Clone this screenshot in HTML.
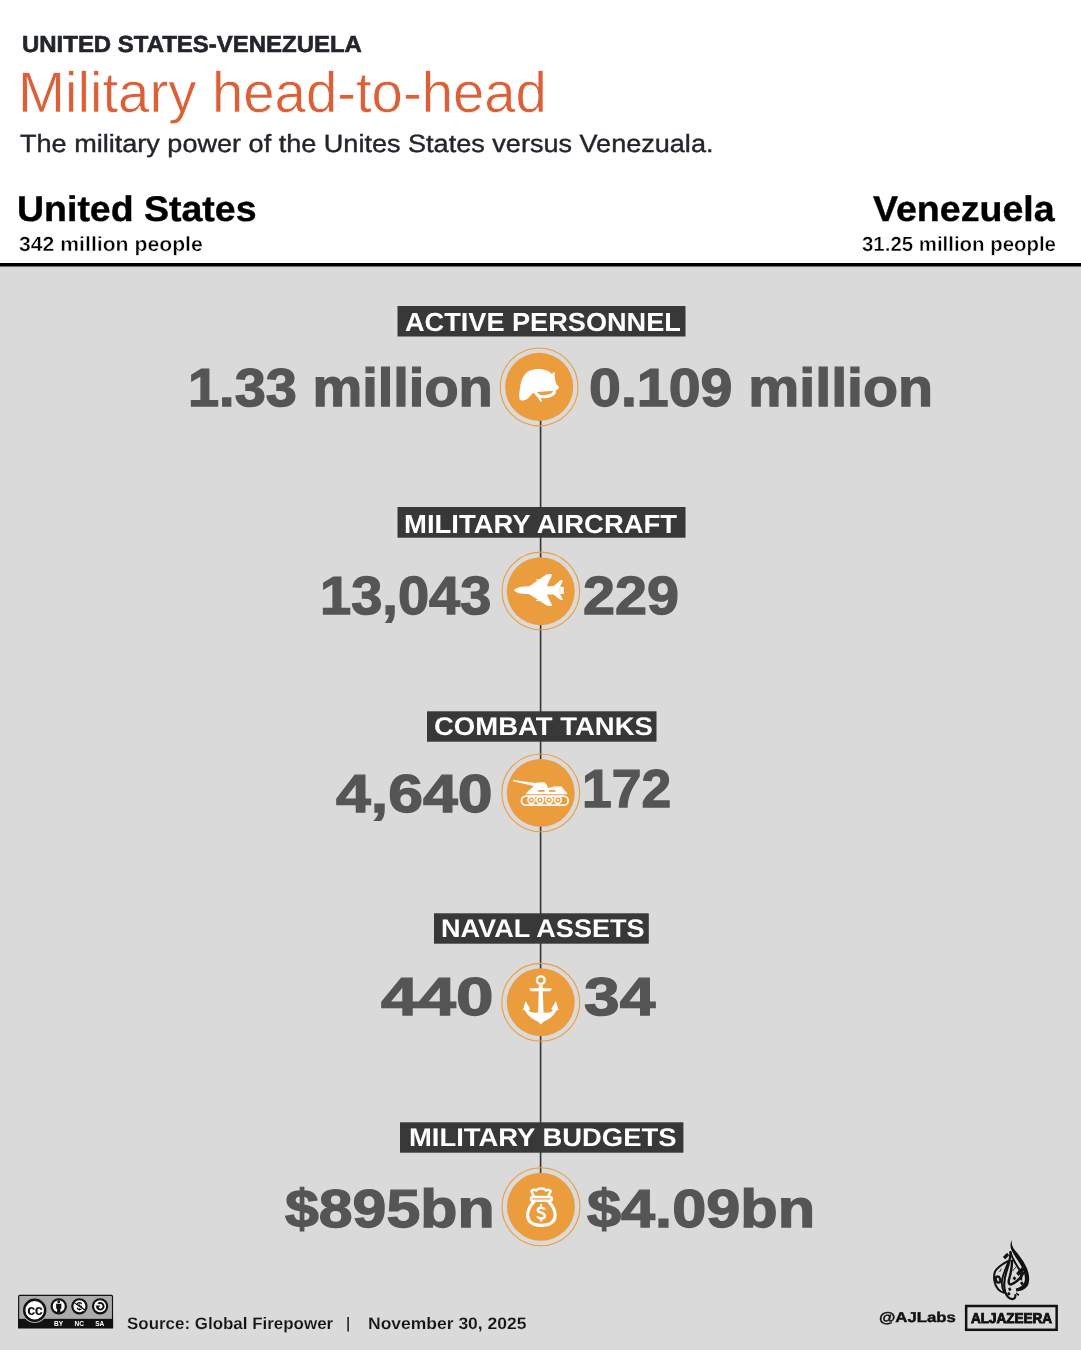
<!DOCTYPE html>
<html lang="en">
<head>
<meta charset="utf-8">
<title>Military head-to-head</title>
<style>
html,body{margin:0;padding:0;}
body{width:1081px;height:1350px;background:#fff;font-family:"Liberation Sans",sans-serif;overflow:hidden;}
#page{will-change:transform;position:relative;width:1081px;height:1350px;overflow:hidden;background:#fff;}
.t{position:absolute;white-space:nowrap;line-height:1;transform-origin:0 0;margin:0;padding:0;text-rendering:geometricPrecision;}
.ic{position:absolute;display:block;overflow:visible;}
</style>
</head>
<body>
<div id="page">
<svg id="bgsvg" class="ic" style="left:0;top:0;width:1081px;height:1350px" viewBox="0 0 1081 1350">
<rect x="0" y="265" width="1081" height="1085" fill="#dadada"/>
<rect x="0" y="263" width="1081" height="3.5" fill="#000"/>
<rect x="539.8" y="387" width="1.6" height="820" fill="#333"/>
<g fill="#383838">
<rect x="397.5" y="306" width="288" height="30.5"/>
<rect x="397.5" y="507" width="288" height="30.7"/>
<rect x="427" y="711.3" width="229.5" height="30.4"/>
<rect x="434" y="913.3" width="214.8" height="30.4"/>
<rect x="400" y="1122.3" width="283.4" height="30.4"/>
</g>
<rect x="347.3" y="1317" width="1.6" height="14.5" fill="#222"/>
</svg>
<!-- icon 1: helmet -->
<svg class="ic" style="left:495px;top:342px;width:90px;height:90px" viewBox="0 0 1081 1081">
<circle cx="530" cy="540" r="467" fill="none" stroke="#eb9d3e" stroke-width="13"/>
<circle cx="531" cy="539" r="409" fill="#eb9d3e"/>
<path fill="#fff" d="M295 685C285 640 295 590 302 545C310 470 340 395 395 355C450 318 560 315 630 345C655 357 672 372 685 388L702 360L716 366C716 420 722 470 738 505L770 545C762 565 745 578 722 585C660 592 580 592 505 602C470 608 445 618 430 640C410 672 380 695 340 702C315 705 298 700 295 685Z"/>
<path fill="none" stroke="#fff" stroke-width="38" stroke-linecap="round" d="M716 598C700 642 625 664 548 654C520 648 500 630 490 612"/>
<path fill="none" stroke="#fff" stroke-width="22" stroke-linecap="round" d="M522 655L553 708"/>
</svg>
<!-- icon 2: jet -->
<svg class="ic" style="left:496px;top:546px;width:90px;height:90px" viewBox="0 0 1081 1081">
<circle cx="538.5" cy="540" r="466" fill="none" stroke="#eb9d3e" stroke-width="13"/>
<circle cx="537.5" cy="542.5" r="408" fill="#eb9d3e"/>
<path fill="#fff" d="M218 530C225 510 270 490 330 485L400 483L600 345C625 332 660 335 675 345L610 483L690 483L775 410L805 410L770 488L815 492L815 575L770 578L805 648L775 648L690 583L610 583L675 715C660 725 625 722 600 710L400 580L330 575C270 570 225 550 218 530Z"/>
<path fill="#fff" d="M480 398L545 402L540 416L485 411ZM480 662L545 658L540 644L485 649Z"/>
<path fill="none" stroke="#eb9d3e" stroke-width="5" d="M768 494L768 574"/>
</svg>
<!-- icon 3: tank -->
<svg class="ic" style="left:496px;top:748px;width:90px;height:90px" viewBox="0 0 1081 1081">
<circle cx="537.5" cy="538.5" r="467" fill="none" stroke="#eb9d3e" stroke-width="13"/>
<circle cx="537.5" cy="539" r="408" fill="#eb9d3e"/>
<rect x="306" y="578" width="561" height="109" rx="55" fill="none" stroke="#fff" stroke-width="20"/>
<g fill="none" stroke="#fff" stroke-width="19"><circle cx="425" cy="625" r="41"/><circle cx="530" cy="625" r="41"/><circle cx="637" cy="625" r="41"/><circle cx="742" cy="625" r="41"/></g>
<g fill="#fff"><circle cx="425" cy="625" r="15"/><circle cx="530" cy="625" r="15"/><circle cx="637" cy="625" r="15"/><circle cx="742" cy="625" r="15"/></g>
<path fill="#fff" d="M350 557L395 510L440 470L472 418L585 410L612 445L625 480L668 470L700 460L790 462L802 482L855 545L855 557Z"/>
<path fill="#fff" d="M205 383L470 420L450 456L205 399Z"/>
<rect x="505" y="505" width="80" height="20" rx="8" fill="#eb9d3e"/><rect x="635" y="505" width="80" height="20" rx="8" fill="#eb9d3e"/>
</svg>
<!-- icon 4: anchor -->
<svg class="ic" style="left:496px;top:957px;width:90px;height:90px" viewBox="0 0 1081 1081">
<circle cx="537.5" cy="544" r="467" fill="none" stroke="#eb9d3e" stroke-width="13"/>
<circle cx="537.5" cy="542.5" r="408" fill="#eb9d3e"/>
<circle cx="538" cy="278" r="46" fill="none" stroke="#fff" stroke-width="28"/>
<path fill="#fff" d="M516 330L560 330L572 700L504 700Z"/>
<path fill="#fff" d="M400 375L672 375L652 412L420 412Z"/>
<path fill="#fff" d="M355 528L322 642L348 636C372 702 440 748 502 776L538 812L574 776C636 748 704 702 728 636L752 642L720 528L664 626L684 640C666 666 626 672 572 668L504 668C450 672 410 666 392 640L412 626Z"/>
</svg>
<!-- icon 5: money bag -->
<svg class="ic" style="left:496px;top:1162px;width:90px;height:90px" viewBox="0 0 1081 1081">
<circle cx="540" cy="537.5" r="468" fill="none" stroke="#eb9d3e" stroke-width="13"/>
<circle cx="540" cy="537.5" r="408" fill="#eb9d3e"/>
<path fill="none" stroke="#fff" stroke-width="38" stroke-linecap="round" d="M455 478C400 530 378 590 380 650C385 720 450 762 545 762C640 762 705 720 710 650C712 590 690 530 635 478"/>
<rect x="420" y="420" width="250" height="46" rx="23" fill="none" stroke="#fff" stroke-width="30"/>
<path fill="none" stroke="#fff" stroke-width="30" stroke-linejoin="round" stroke-linecap="round" d="M452 408L425 350C440 333 465 330 482 342C505 312 580 312 602 342C618 330 642 333 657 350L630 408"/>
<path fill="none" stroke="#fff" stroke-width="30" d="M584 574C576 542 502 538 502 580C502 614 586 602 586 648C584 690 506 684 498 652"/><path fill="none" stroke="#fff" stroke-width="24" d="M542 505L542 545M542 675L542 716"/>
</svg>
<!-- CC badge -->
<svg class="ic" style="left:14px;top:1290px;width:104px;height:42.04px" viewBox="0 0 1081 437">
<path fill="#aaabaa" stroke="#111" stroke-width="12" d="M48 395L48 68Q48 56 60 56L1012 56Q1024 56 1024 68L1024 395Z"/>
<rect x="42" y="300" width="988" height="95" fill="#111"/>
<circle cx="215" cy="210" r="132" fill="#aaabaa"/>
<circle cx="215" cy="210" r="109" fill="#fff" stroke="#111" stroke-width="25"/>
<text x="215" y="256" font-family="Liberation Sans, sans-serif" font-weight="700" font-size="150" fill="#111" text-anchor="middle" letter-spacing="-7">cc</text>
<g fill="#fff" stroke="#111" stroke-width="23"><circle cx="465" cy="170" r="74"/><circle cx="680" cy="170" r="74"/><circle cx="895" cy="170" r="74"/></g>
<circle cx="465" cy="122" r="15" fill="#111"/><path fill="#111" d="M438 142L492 142L492 195L482 195L482 232L448 232L448 195L438 195Z"/>
<text x="680" y="210" font-family="Liberation Sans, sans-serif" font-weight="700" font-size="112" fill="#111" text-anchor="middle">$</text>
<path stroke="#111" stroke-width="14" d="M618 128L742 212"/>
<path stroke="#fff" stroke-width="8" d="M622 142L732 218"/>
<circle cx="897" cy="170" r="34" fill="none" stroke="#111" stroke-width="20"/>
<path fill="#fff" d="M845 128L892 150L892 172L845 172Z"/>
<path fill="#111" d="M846 160L898 160L872 192Z"/>
<g font-family="Liberation Sans, sans-serif" font-weight="700" font-size="68" fill="#fff" text-anchor="middle"><text x="463" y="375">BY</text><text x="678" y="375">NC</text><text x="891" y="375">SA</text></g>
</svg>
<!-- AJ box -->
<svg class="ic" style="left:960px;top:1300px;width:102px;height:36px" viewBox="0 0 102 36"><rect x="6.15" y="6.0" width="90.5" height="23.8" fill="none" stroke="#111" stroke-width="2.5"/></svg>
<!-- AJ flame logo -->
<svg class="ic" style="left:980px;top:1232px;width:65px;height:72px" viewBox="0 0 1081 1197">
<path fill="#111" d="M540 128C522 160 524 205 552 262C595 330 690 420 760 560C810 660 835 770 805 870C780 940 700 985 605 990L595 940C680 925 735 880 745 800C755 720 720 620 655 515C610 440 548 360 520 290C500 235 500 170 540 128Z"/>
<path fill="none" stroke="#111" stroke-width="34" stroke-linecap="round" d="M508 335C530 440 598 530 648 615C678 665 694 725 684 790"/>
<path fill="none" stroke="#111" stroke-width="34" stroke-linecap="round" d="M490 470C400 520 290 570 250 660C215 750 240 880 300 950C330 985 370 1005 400 1010"/>
<path fill="none" stroke="#111" stroke-width="36" stroke-linecap="round" d="M505 335C510 450 470 560 440 660C400 780 390 900 420 1000C440 1060 490 1110 540 1115C570 1115 592 1090 588 1050"/>
<path fill="none" stroke="#111" stroke-width="30" stroke-linecap="round" d="M470 500C440 580 390 680 370 780C355 870 370 950 400 1000"/>
<path fill="none" stroke="#111" stroke-width="40" stroke-linecap="round" d="M530 480C540 600 500 720 480 800C470 850 490 880 520 870C600 840 680 760 720 680"/>
<ellipse cx="300" cy="790" rx="36" ry="52" fill="none" stroke="#111" stroke-width="38" transform="rotate(-20 300 790)"/>
<path fill="#111" d="M380 415L450 345L485 385L420 455Z"/>
<path fill="#111" d="M600 685L700 580L730 640L640 730Z"/>
<path fill="#111" d="M540 765L575 735L605 775L570 805ZM665 850L700 820L730 860L695 890ZM465 945L500 920L525 960L490 985ZM450 1020L485 995L510 1035L475 1060Z"/>
<path fill="#111" d="M598 1000L655 1040L640 1065L605 1040Z"/>
<path fill="none" stroke="#111" stroke-width="14" d="M540 650L600 580M325 665L355 610"/>
</svg>

<div class="t" id="kicker" style="left:21.58px;top:32.75px;font-size:23.20px;font-weight:700;color:#23252c;transform:scaleX(1.0332);-webkit-text-stroke:0.6px #23252c;">UNITED STATES-VENEZUELA</div>
<div class="t" id="title" style="left:18.18px;top:64.99px;font-size:57.02px;font-weight:400;color:#db5f37;transform:scaleX(0.9876);-webkit-text-stroke:0.6px #fff;">Military head-to-head</div>
<div class="t" id="sub" style="left:20.28px;top:131.87px;font-size:24.92px;font-weight:400;color:#23252c;transform:scaleX(1.0866);-webkit-text-stroke:0.4px #23252c;">The military power of the Unites States versus Venezuala.</div>
<div class="t" id="us" style="left:16.75px;top:192.15px;font-size:35.69px;font-weight:700;color:#000;transform:scaleX(1.0508);-webkit-text-stroke:0.4px #000;">United States</div>
<div class="t" id="uspop" style="left:19.25px;top:234.61px;font-size:20.54px;font-weight:700;color:#000;transform:scaleX(1.0324);-webkit-text-stroke:0.4px #fff;">342 million people</div>
<div class="t" id="ve" style="left:873.31px;top:192.15px;font-size:35.69px;font-weight:700;color:#000;transform:scaleX(1.0527);-webkit-text-stroke:0.4px #000;">Venezuela</div>
<div class="t" id="vepop" style="left:861.69px;top:234.61px;font-size:20.54px;font-weight:700;color:#000;transform:scaleX(0.9942);-webkit-text-stroke:0.4px #fff;">31.25 million people</div>
<div class="t" id="l1" style="left:405.01px;top:309.18px;font-size:26.07px;font-weight:700;color:#fff;transform:scaleX(1.0410);">ACTIVE PERSONNEL</div>
<div class="t" id="l2" style="left:403.98px;top:511.18px;font-size:26.07px;font-weight:700;color:#fff;transform:scaleX(1.0539);">MILITARY AIRCRAFT</div>
<div class="t" id="l3" style="left:434.40px;top:715.11px;font-size:25.55px;font-weight:700;color:#fff;transform:scaleX(1.0761);">COMBAT TANKS</div>
<div class="t" id="l4" style="left:441.21px;top:917.11px;font-size:25.55px;font-weight:700;color:#fff;transform:scaleX(1.0599);">NAVAL ASSETS</div>
<div class="t" id="l5" style="left:409.42px;top:1126.11px;font-size:25.55px;font-weight:700;color:#fff;transform:scaleX(1.0728);">MILITARY BUDGETS</div>
<div class="t" id="n1a" style="left:188.25px;top:362.24px;font-size:53.65px;font-weight:700;color:#555;transform:scaleX(1.0432);-webkit-text-stroke:1.3px #555;">1.33 million</div>
<div class="t" id="n1b" style="left:589.09px;top:362.24px;font-size:53.65px;font-weight:700;color:#555;transform:scaleX(1.0686);-webkit-text-stroke:1.3px #555;">0.109 million</div>
<div class="t" id="n2a" style="left:319.82px;top:570.42px;font-size:53.74px;font-weight:700;color:#555;transform:scaleX(1.0426);-webkit-text-stroke:1.3px #555;">13,043</div>
<div class="t" id="n2b" style="left:583.37px;top:570.42px;font-size:53.74px;font-weight:700;color:#555;transform:scaleX(1.0707);-webkit-text-stroke:1.3px #555;">229</div>
<div class="t" id="n3a" style="left:335.64px;top:767.79px;font-size:53.48px;font-weight:700;color:#555;transform:scaleX(1.1691);-webkit-text-stroke:1.3px #555;">4,640</div>
<div class="t" id="n3b" style="left:582.01px;top:762.89px;font-size:53.48px;font-weight:700;color:#555;transform:scaleX(0.9993);-webkit-text-stroke:1.3px #555;">172</div>
<div class="t" id="n4a" style="left:380.90px;top:970.79px;font-size:53.48px;font-weight:700;color:#555;transform:scaleX(1.2612);-webkit-text-stroke:1.3px #555;">440</div>
<div class="t" id="n4b" style="left:583.86px;top:970.79px;font-size:53.48px;font-weight:700;color:#555;transform:scaleX(1.1993);-webkit-text-stroke:1.3px #555;">34</div>
<div class="t" id="n5a" style="left:285.43px;top:1182.89px;font-size:53.48px;font-weight:700;color:#555;transform:scaleX(1.1370);-webkit-text-stroke:1.3px #555;">$895bn</div>
<div class="t" id="n5b" style="left:586.94px;top:1182.89px;font-size:53.48px;font-weight:700;color:#555;transform:scaleX(1.1454);-webkit-text-stroke:1.3px #555;">$4.09bn</div>
<div class="t" id="src" style="left:126.66px;top:1316.33px;font-size:16.58px;font-weight:700;color:#151515;transform:scaleX(1.0219);-webkit-text-stroke:0.15px #dadada;">Source: Global Firepower</div>
<div class="t" id="date" style="left:368.34px;top:1316.33px;font-size:16.58px;font-weight:700;color:#151515;transform:scaleX(1.0549);-webkit-text-stroke:0.15px #dadada;">November 30, 2025</div>
<div class="t" id="ajl" style="left:878.98px;top:1310.94px;font-size:14.18px;font-weight:700;color:#111;transform:scaleX(1.1804);-webkit-text-stroke:0.4px #111;">@AJLabs</div>
<div class="t" id="ajz" style="left:971.03px;top:1311.71px;font-size:14.23px;font-weight:700;color:#111;transform:scaleX(0.9509);-webkit-text-stroke:0.9px #111;">ALJAZEERA</div>
</div>
</body>
</html>
